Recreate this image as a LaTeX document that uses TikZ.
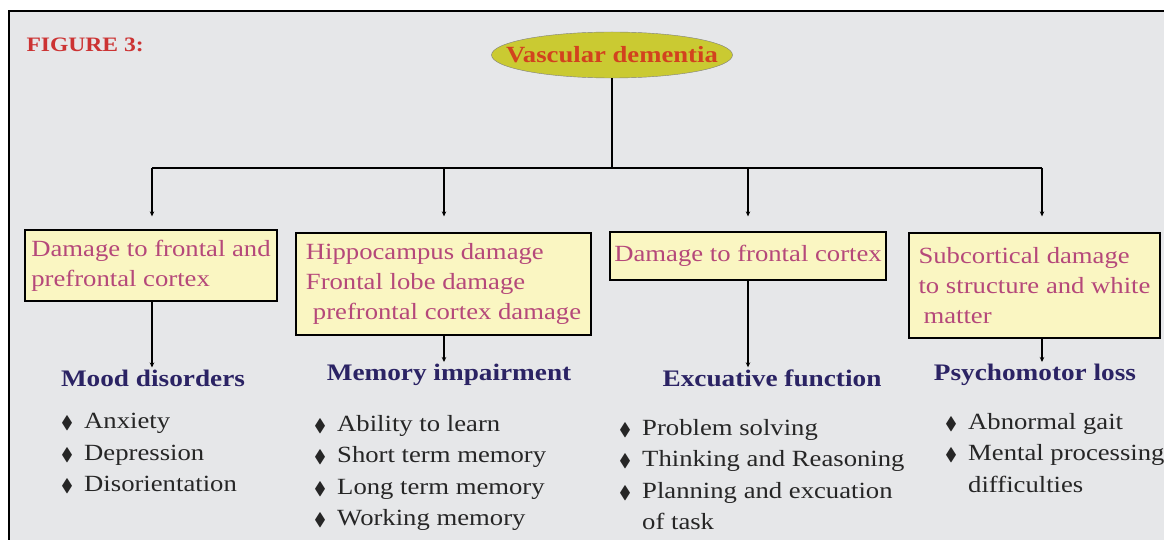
\documentclass[tikz,border=0pt]{standalone}
\usepackage{amssymb}
\usepackage{fontspec}
\setmainfont[FakeStretch=1.15]{Liberation Serif}
\usetikzlibrary{arrows.meta, positioning, shapes.geometric, calc}
\definecolor{figBg}{HTML}{E6E7E9}
\definecolor{figRed}{HTML}{CC3333}
\definecolor{rootFill}{HTML}{CACA32}
\definecolor{rootText}{HTML}{D2421E}
\definecolor{boxFill}{HTML}{FAF6C2}
\definecolor{boxText}{HTML}{B5487A}
\definecolor{headNavy}{HTML}{2B2364}
\newcommand{\itm}{{\fontsize{18}{18}\selectfont$\blacklozenge$}\hspace{11pt}}
\newcommand{\itmgap}{\phantom{\itm}}

\begin{document}
\begin{tikzpicture}[
    x=1pt, y=-1pt,
    root/.style={ellipse, draw=black!50, fill=rootFill, minimum width=241pt, minimum height=46pt, inner sep=0pt,
        font=\fontsize{23.2}{26}\selectfont\bfseries, text=rootText},
    dmg/.style={draw, line width=1.3pt, fill=boxFill, text=boxText, align=left, inner sep=0pt,
        font=\fontsize{23.2}{30}\selectfont},
    head/.style={font=\fontsize{23.7}{26}\selectfont\bfseries, text=headNavy, inner sep=2pt},
    items/.style={font=\fontsize{23.2}{31.5}\selectfont, text=black!85, align=left, anchor=north west, inner sep=0pt},
    arr/.style={-{Stealth[length=5pt, width=4.5pt]}, line width=1.1pt},
]
    \useasboundingbox (0,0) rectangle (1164,540);
    \clip (0,0) rectangle (1164,540);
    \draw[line width=1.6pt, fill=figBg] (9,11) rectangle (1175,552);

    \node[font=\fontsize{20.5}{24}\selectfont\bfseries, text=figRed, anchor=west] (fig) at (23,45) {FIGURE 3:};

    % root
    \node[root] (vd) at (612,55) {\makebox[0pt]{Vascular dementia}};

    % bus and branch points
    \coordinate (bus) at (612,168);
    \coordinate (b1) at (152,168);
    \coordinate (b2) at (444,168);
    \coordinate (b3) at (748,168);
    \coordinate (b4) at (1042,168);

    % damage boxes
    \node[dmg, minimum width=252pt, minimum height=71pt] (dmg1) at (151,265.5)
        {Damage to frontal and\\prefrontal cortex};
    \node[dmg, minimum width=295pt, minimum height=102pt] (dmg2) at (443.5,284)
        {Hippocampus damage\\Frontal lobe damage\\\hspace{7pt}prefrontal cortex damage};
    \node[dmg, minimum width=276pt, minimum height=48pt] (dmg3) at (748,256)
        {Damage to frontal cortex};
    \node[dmg, minimum width=251pt, minimum height=105pt] (dmg4) at (1034.5,285.5)
        {Subcortical damage\\to structure and white\\\hspace{5pt}matter};

    % headings
    \node[head] (mood) at (153,378) {Mood disorders};
    \node[head] (mem) at (449,375) {Memory impairment};
    \node[head] (exe) at (772,378) {Excuative function};
    \node[head] (psy) at (1035,375) {Psychomotor loss};

    % lists
    \node[items] (moodL) at (61,413) {\itm Anxiety\\\itm Depression\\\itm Disorientation};
    \node[items] (memL) at (314,415) {\itm Ability to learn\\\itm Short term memory\\\itm Long term memory\\\itm Working memory};
    \node[items] (exeL) at (619,419) {\itm Problem solving\\\itm Thinking and Reasoning\\\itm Planning and excuation\\\itmgap of task};
    \node[items] (psyL) at (945,413) {\itm Abnormal gait\\\itm Mental processing\\\itmgap difficulties};

    % connectors
    \draw[line width=1.1pt] (vd.south) -- (bus);
    \draw[line width=1.1pt] (b1) -- (b4);
    \draw[arr, shorten >=13pt] (b1) -- (b1 |- dmg1.north);
    \draw[arr, shorten >=16pt] (b2) -- (b2 |- dmg2.north);
    \draw[arr, shorten >=15pt] (b3) -- (b3 |- dmg3.north);
    \draw[arr, shorten >=16pt] (b4) -- (b4 |- dmg4.north);
    \draw[arr] (b1 |- dmg1.south) -- (b1 |- mood.north);
    \draw[arr] (b2 |- dmg2.south) -- (b2 |- mem.north);
    \draw[arr] (b3 |- dmg3.south) -- (b3 |- exe.north);
    \draw[arr] (b4 |- dmg4.south) -- (b4 |- psy.north);
\end{tikzpicture}
\end{document}
